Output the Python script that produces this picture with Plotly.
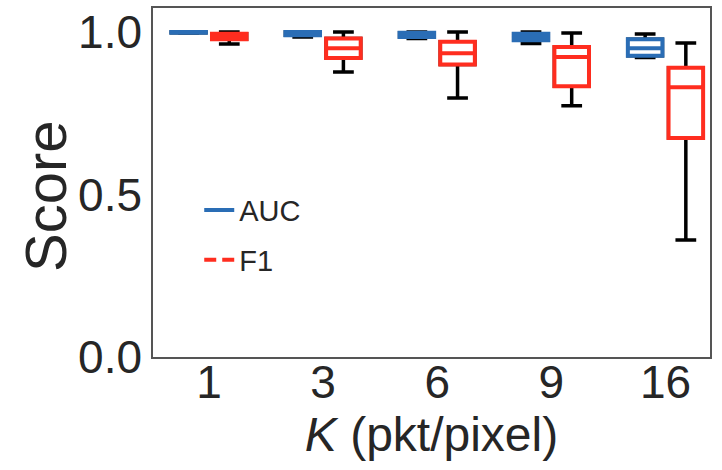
import plotly.graph_objects as go

categories = ["1", "3", "6", "9", "16"]

auc_lower = [0.997, 0.985, 0.980, 0.965, 0.922]
auc_q1 = [0.998, 0.990, 0.985, 0.975, 0.927]
auc_median = [0.999, 0.995, 0.990, 0.985, 0.950]
auc_q3 = [1.000, 1.000, 0.998, 0.995, 0.978]
auc_upper = [1.000, 1.000, 1.000, 1.000, 0.994]

f1_lower = [0.963, 0.877, 0.797, 0.773, 0.360]
f1_q1 = [0.978, 0.920, 0.900, 0.833, 0.674]
f1_median = [0.988, 0.950, 0.935, 0.923, 0.830]
f1_q3 = [0.995, 0.980, 0.970, 0.954, 0.890]
f1_upper = [1.000, 1.000, 1.000, 0.997, 0.966]

BLUE = "#2a6db5"
RED = "#ff2d1f"
TXT = "#262626"
FONT = "Liberation Sans"

fig = go.Figure()

def whisker_trace(lo, q1, med, q3, up, group):
    return go.Box(
        x=categories, lowerfence=lo, q1=q1, median=med, q3=q3, upperfence=up,
        line=dict(color="black", width=3.5), fillcolor="white",
        whiskerwidth=0.6, offsetgroup=group, alignmentgroup="a",
        showlegend=False, hoverinfo="skip",
    )

def color_trace(q1, med, q3, color, group):
    return go.Box(
        x=categories, lowerfence=q1, q1=q1, median=med, q3=q3, upperfence=q3,
        line=dict(color=color, width=4), fillcolor="white",
        whiskerwidth=0, offsetgroup=group, alignmentgroup="a",
        showlegend=False, hoverinfo="skip",
    )

fig.add_trace(whisker_trace(auc_lower, auc_q1, auc_median, auc_q3, auc_upper, "auc"))
fig.add_trace(whisker_trace(f1_lower, f1_q1, f1_median, f1_q3, f1_upper, "f1"))
fig.add_trace(color_trace(auc_q1, auc_median, auc_q3, BLUE, "auc"))
fig.add_trace(color_trace(f1_q1, f1_median, f1_q3, RED, "f1"))

fig.add_trace(go.Scatter(x=[None], y=[None], mode="lines", name="AUC",
                         line=dict(color=BLUE, width=4), legendgroup="a"))
fig.add_trace(go.Scatter(x=[None], y=[None], mode="lines", name="F1",
                         line=dict(color=RED, width=4, dash="12px,6px"), legendgroup="b"))

fig.update_layout(
    width=722, height=470,
    margin=dict(l=153, r=12, t=8, b=113),
    paper_bgcolor="white", plot_bgcolor="white",
    boxmode="group", boxgap=0.287, boxgroupgap=0.15,
    font=dict(family=FONT, color=TXT),
    legend=dict(
        x=0.083, y=0.494, xanchor="left", yanchor="top",
        font=dict(size=29, family=FONT, color=TXT),
        bgcolor="rgba(0,0,0,0)", traceorder="grouped", tracegroupgap=9,
    ),
    xaxis=dict(
        type="category", range=[-0.49, 4.39],
        showline=True, mirror=True, linecolor="#555555", linewidth=1.5,
        showgrid=False, zeroline=False, ticks="", ticklen=0,
        ticklabelstandoff=-16,
        tickfont=dict(size=46, family=FONT, color=TXT),
        title=dict(text="<i>K</i> (pkt/pixel)", font=dict(size=48, family=FONT, color=TXT), standoff=4),
        automargin=False,
    ),
    yaxis=dict(
        range=[0, 1.074], tickvals=[0, 0.5, 1.0], ticktext=["0.0", "0.5", "1.0"],
        showline=True, mirror=True, linecolor="#555555", linewidth=1.5,
        showgrid=False, zeroline=False, ticks="", ticklen=0,
        tickfont=dict(size=46, family=FONT, color=TXT),
        automargin=False,
    ),
    annotations=[dict(
        text="Score", textangle=-90, xref="paper", yref="paper",
        x=-0.194, y=0.461, xanchor="center", yanchor="middle", showarrow=False,
        font=dict(size=58, family=FONT, color=TXT),
    )],
)

fig.write_html("out.html")
